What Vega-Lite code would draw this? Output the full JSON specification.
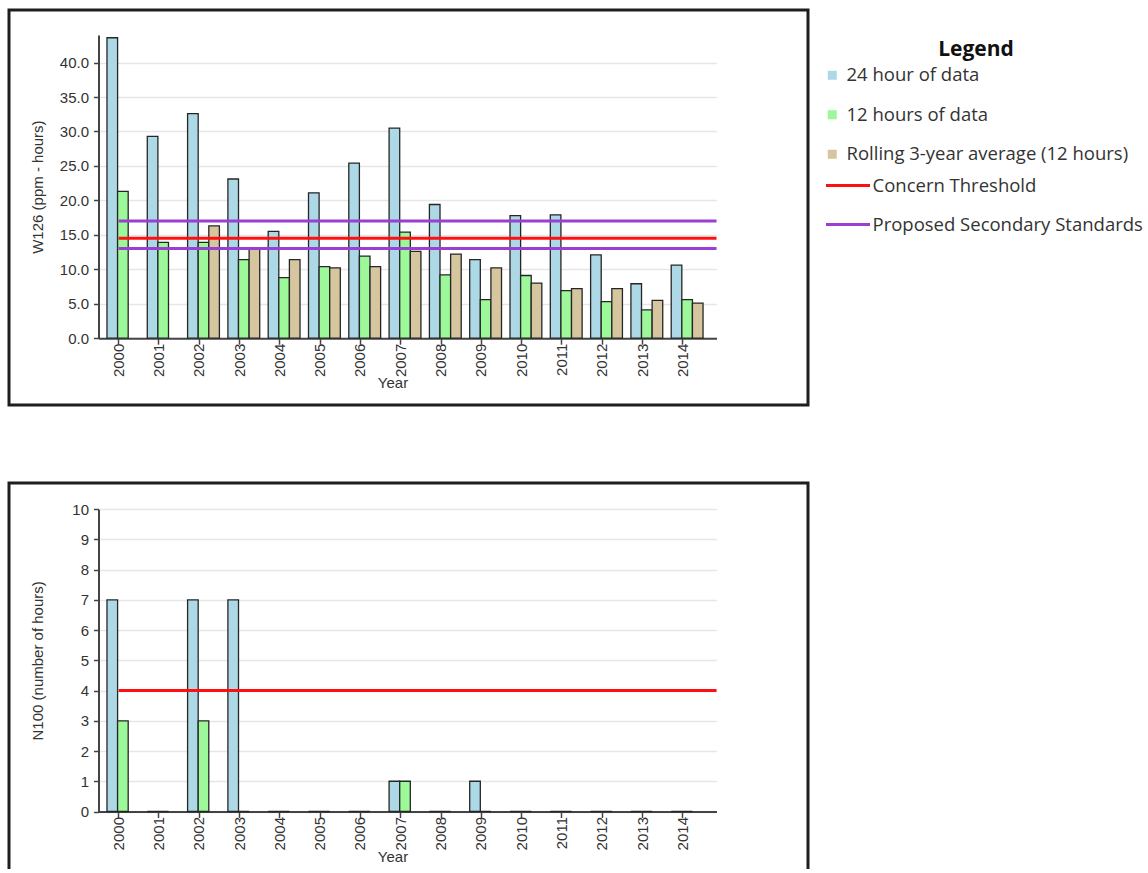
{
  "$schema": "https://vega.github.io/schema/vega-lite/v6.json",
  "padding": {"left": 7, "top": 8, "right": 0, "bottom": -8},
  "autosize": {"type": "pad"},
  "background": "white",
  "config": {
    "view": {"stroke": "#1e1e1e", "strokeWidth": 3},
    "axis": {
      "labelFont": "Liberation Sans", "labelFontSize": 15, "labelColor": "#333",
      "titleFont": "Liberation Sans", "titleFontSize": 15, "titleColor": "#333", "titleFontWeight": "normal",
      "domainColor": "#444", "domainWidth": 2, "tickColor": "#444", "tickWidth": 1.5,
      "gridColor": "#e6e6e6", "gridWidth": 1.5
    }
  },
  "datasets": {
    "w126": [
      {"year": "2000", "series": "24 hour of data", "value": 43.6},
      {"year": "2000", "series": "12 hours of data", "value": 21.3},
      {"year": "2001", "series": "24 hour of data", "value": 29.3},
      {"year": "2001", "series": "12 hours of data", "value": 13.9},
      {"year": "2002", "series": "24 hour of data", "value": 32.6},
      {"year": "2002", "series": "12 hours of data", "value": 13.9},
      {"year": "2002", "series": "Rolling 3-year average (12 hours)", "value": 16.3},
      {"year": "2003", "series": "24 hour of data", "value": 23.1},
      {"year": "2003", "series": "12 hours of data", "value": 11.4},
      {"year": "2003", "series": "Rolling 3-year average (12 hours)", "value": 13.1},
      {"year": "2004", "series": "24 hour of data", "value": 15.5},
      {"year": "2004", "series": "12 hours of data", "value": 8.8},
      {"year": "2004", "series": "Rolling 3-year average (12 hours)", "value": 11.4},
      {"year": "2005", "series": "24 hour of data", "value": 21.1},
      {"year": "2005", "series": "12 hours of data", "value": 10.4},
      {"year": "2005", "series": "Rolling 3-year average (12 hours)", "value": 10.2},
      {"year": "2006", "series": "24 hour of data", "value": 25.4},
      {"year": "2006", "series": "12 hours of data", "value": 11.9},
      {"year": "2006", "series": "Rolling 3-year average (12 hours)", "value": 10.4},
      {"year": "2007", "series": "24 hour of data", "value": 30.5},
      {"year": "2007", "series": "12 hours of data", "value": 15.4},
      {"year": "2007", "series": "Rolling 3-year average (12 hours)", "value": 12.6},
      {"year": "2008", "series": "24 hour of data", "value": 19.4},
      {"year": "2008", "series": "12 hours of data", "value": 9.2},
      {"year": "2008", "series": "Rolling 3-year average (12 hours)", "value": 12.2},
      {"year": "2009", "series": "24 hour of data", "value": 11.4},
      {"year": "2009", "series": "12 hours of data", "value": 5.6},
      {"year": "2009", "series": "Rolling 3-year average (12 hours)", "value": 10.2},
      {"year": "2010", "series": "24 hour of data", "value": 17.8},
      {"year": "2010", "series": "12 hours of data", "value": 9.1},
      {"year": "2010", "series": "Rolling 3-year average (12 hours)", "value": 8.0},
      {"year": "2011", "series": "24 hour of data", "value": 17.9},
      {"year": "2011", "series": "12 hours of data", "value": 6.9},
      {"year": "2011", "series": "Rolling 3-year average (12 hours)", "value": 7.2},
      {"year": "2012", "series": "24 hour of data", "value": 12.1},
      {"year": "2012", "series": "12 hours of data", "value": 5.3},
      {"year": "2012", "series": "Rolling 3-year average (12 hours)", "value": 7.2},
      {"year": "2013", "series": "24 hour of data", "value": 7.9},
      {"year": "2013", "series": "12 hours of data", "value": 4.1},
      {"year": "2013", "series": "Rolling 3-year average (12 hours)", "value": 5.5},
      {"year": "2014", "series": "24 hour of data", "value": 10.6},
      {"year": "2014", "series": "12 hours of data", "value": 5.6},
      {"year": "2014", "series": "Rolling 3-year average (12 hours)", "value": 5.1}
    ],
    "w126lines": [
      {"line": "Proposed Secondary Standards", "value": 17},
      {"line": "Concern Threshold", "value": 14.5},
      {"line": "Proposed Secondary Standards", "value": 13}
    ],
    "n100": [
      {"year": "2000", "series": "24 hour of data", "value": 7},
      {"year": "2000", "series": "12 hours of data", "value": 3},
      {"year": "2001", "series": "24 hour of data", "value": 0},
      {"year": "2001", "series": "12 hours of data", "value": 0},
      {"year": "2002", "series": "24 hour of data", "value": 7},
      {"year": "2002", "series": "12 hours of data", "value": 3},
      {"year": "2003", "series": "24 hour of data", "value": 7},
      {"year": "2003", "series": "12 hours of data", "value": 0},
      {"year": "2004", "series": "24 hour of data", "value": 0},
      {"year": "2004", "series": "12 hours of data", "value": 0},
      {"year": "2005", "series": "24 hour of data", "value": 0},
      {"year": "2005", "series": "12 hours of data", "value": 0},
      {"year": "2006", "series": "24 hour of data", "value": 0},
      {"year": "2006", "series": "12 hours of data", "value": 0},
      {"year": "2007", "series": "24 hour of data", "value": 1},
      {"year": "2007", "series": "12 hours of data", "value": 1},
      {"year": "2008", "series": "24 hour of data", "value": 0},
      {"year": "2008", "series": "12 hours of data", "value": 0},
      {"year": "2009", "series": "24 hour of data", "value": 1},
      {"year": "2009", "series": "12 hours of data", "value": 0},
      {"year": "2010", "series": "24 hour of data", "value": 0},
      {"year": "2010", "series": "12 hours of data", "value": 0},
      {"year": "2011", "series": "24 hour of data", "value": 0},
      {"year": "2011", "series": "12 hours of data", "value": 0},
      {"year": "2012", "series": "24 hour of data", "value": 0},
      {"year": "2012", "series": "12 hours of data", "value": 0},
      {"year": "2013", "series": "24 hour of data", "value": 0},
      {"year": "2013", "series": "12 hours of data", "value": 0},
      {"year": "2014", "series": "24 hour of data", "value": 0},
      {"year": "2014", "series": "12 hours of data", "value": 0}
    ],
    "n100lines": [
      {"line": "Concern Threshold", "value": 4}
    ]
  },
  "spacing": 74,
  "resolve": {"scale": {"fill": "independent", "stroke": "independent", "x": "independent", "y": "independent"}},
  "vconcat": [
    {
      "width": 799,
      "height": 395,
      "layer": [
        {
          "data": {"name": "w126"},
          "mark": {"type": "bar", "stroke": "#262626", "strokeWidth": 1.3},
          "encoding": {
            "x": {
              "field": "year", "type": "ordinal",
              "scale": {"range": [89.5, 707.5], "paddingInner": 0, "paddingOuter": 0.167, "align": 0},
              "axis": {"title": "Year", "labelAngle": -90, "offset": -66.8, "tickSize": 6, "labelPadding": -1, "grid": false,
                       "titleX": 383.5, "titleY": 44, "titleBaseline": "middle"}
            },
            "xOffset": {
              "field": "series",
              "scale": {"domain": ["24 hour of data", "12 hours of data", "Rolling 3-year average (12 hours)"], "paddingInner": 0, "paddingOuter": 0.4, "align": 1}
            },
            "y": {
              "field": "value", "type": "quantitative",
              "scale": {"domain": [0, 44], "range": [328.2, 25], "nice": false},
              "axis": {"title": "W126 (ppm - hours)", "values": [0, 5, 10, 15, 20, 25, 30, 35, 40], "format": ".1f",
                       "offset": -89.5, "tickSize": 5, "labelPadding": 5, "grid": true, "labelOverlap": false,
                       "titleX": -61, "titleBaseline": "middle"}
            },
            "fill": {
              "field": "series", "type": "nominal",
              "scale": {"domain": ["24 hour of data", "12 hours of data", "Rolling 3-year average (12 hours)"],
                        "range": ["#ADD8E6", "#9CF898", "#D6C6A0"]},
              "legend": {
                "orient": "none", "legendX": 814, "legendY": 29, "padding": 0,
                "title": "Legend", "titleFont": "Open Sans", "titleFontSize": 21, "titleFontWeight": "bold",
                "titleColor": "#111", "titleAnchor": "middle", "titleAlign": "center", "titlePadding": 6,
                "symbolType": "square", "symbolSize": 81, "symbolStrokeWidth": 0,
                "labelFont": "Open Sans", "labelFontSize": 18.5, "labelColor": "#333", "labelOffset": 5,
                "rowPadding": 20.5, "labelLimit": 400
              }
            }
          }
        },
        {
          "data": {"name": "w126lines"},
          "mark": {"type": "rule", "strokeWidth": 3},
          "encoding": {
            "x": {"datum": "2000", "bandPosition": 0.5},
            "x2": {"datum": "2014", "bandPosition": 1.335},
            "y": {"field": "value", "type": "quantitative",
              "axis": {"title": "W126 (ppm - hours)", "values": [0, 5, 10, 15, 20, 25, 30, 35, 40], "format": ".1f",
                       "offset": -89.5, "tickSize": 5, "labelPadding": 5, "grid": true, "labelOverlap": false,
                       "titleX": -61, "titleBaseline": "middle"}},
            "stroke": {
              "field": "line", "type": "nominal",
              "scale": {"domain": ["Concern Threshold", "Proposed Secondary Standards"], "range": ["#FF1010", "#9A3FD4"]},
              "legend": {
                "orient": "none", "legendX": 815.5, "legendY": 152, "padding": 0, "title": null,
                "symbolType": "stroke", "symbolSize": 1936, "symbolStrokeWidth": 3,
                "labelFont": "Open Sans", "labelFontSize": 18.5, "labelColor": "#333", "labelOffset": 1,
                "rowPadding": 6, "labelLimit": 400
              }
            }
          }
        }
      ]
    },
    {
      "width": 799,
      "height": 392,
      "layer": [
        {
          "data": {"name": "n100"},
          "mark": {"type": "bar", "stroke": "#262626", "strokeWidth": 1.3},
          "encoding": {
            "x": {
              "field": "year", "type": "ordinal",
              "scale": {"range": [89.5, 707.5], "paddingInner": 0, "paddingOuter": 0.167, "align": 0},
              "axis": {"title": "Year", "labelAngle": -90, "offset": -63.5, "tickSize": 6, "labelPadding": -1, "grid": false,
                       "titleX": 383.5, "titleY": 45, "titleBaseline": "middle"}
            },
            "xOffset": {
              "field": "series",
              "scale": {"domain": ["24 hour of data", "12 hours of data", "Rolling 3-year average (12 hours)"], "paddingInner": 0, "paddingOuter": 0.4, "align": 1}
            },
            "y": {
              "field": "value", "type": "quantitative",
              "scale": {"domain": [0, 10], "range": [328.5, 26.2], "nice": false},
              "axis": {"title": "N100 (number of hours)", "values": [0, 1, 2, 3, 4, 5, 6, 7, 8, 9, 10], "format": "d",
                       "offset": -89.5, "tickSize": 5, "labelPadding": 5, "grid": true, "labelOverlap": false,
                       "titleX": -61, "titleBaseline": "middle"}
            },
            "fill": {
              "field": "series", "type": "nominal",
              "scale": {"domain": ["24 hour of data", "12 hours of data"], "range": ["#ADD8E6", "#9CF898"]},
              "legend": null
            }
          }
        },
        {
          "data": {"name": "n100lines"},
          "mark": {"type": "rule", "strokeWidth": 3},
          "encoding": {
            "x": {"datum": "2000", "bandPosition": 0.5},
            "x2": {"datum": "2014", "bandPosition": 1.335},
            "y": {"field": "value", "type": "quantitative",
              "axis": {"title": "N100 (number of hours)", "values": [0, 1, 2, 3, 4, 5, 6, 7, 8, 9, 10], "format": "d",
                       "offset": -89.5, "tickSize": 5, "labelPadding": 5, "grid": true, "labelOverlap": false,
                       "titleX": -61, "titleBaseline": "middle"}},
            "stroke": {
              "field": "line", "type": "nominal",
              "scale": {"domain": ["Concern Threshold"], "range": ["#FF1010"]},
              "legend": null
            }
          }
        }
      ]
    }
  ]
}
